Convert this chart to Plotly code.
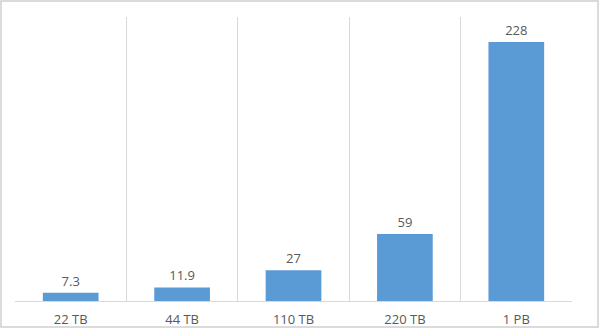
import plotly.graph_objects as go

categories = ["22 TB", "44 TB", "110 TB", "220 TB", "1 PB"]
values = [7.3, 11.9, 27, 59, 228]
labels = ["7.3", "11.9", "27", "59", "228"]

W, H = 600, 329
ml, mr, mt, mb = 15, 28, 17, 28
pw, ph = W - ml - mr, H - mt - mb

fig = go.Figure()
fig.add_trace(go.Bar(
    x=list(range(len(categories))), y=values,
    text=labels, textposition="outside", cliponaxis=False,
    textfont=dict(color="#595959", size=13),
    marker=dict(color="#5b9bd5", line=dict(width=0)),
    width=0.5,
))

fig.update_layout(
    width=W, height=H,
    margin=dict(l=ml, r=mr, t=mt, b=mb, autoexpand=False),
    paper_bgcolor="white", plot_bgcolor="white",
    font=dict(family="Open Sans, Noto Sans, sans-serif", color="#595959", size=13),
    showlegend=False,
    xaxis=dict(
        range=[-0.5, len(categories) - 0.5], automargin=False,
        tickmode="array", tickvals=list(range(len(categories))), ticktext=categories,
        showgrid=False, zeroline=False,
        showline=True, linecolor="#d9d9d9", linewidth=1,
        ticks="outside", ticklen=6, tickcolor="rgba(0,0,0,0)",
        tickfont=dict(color="#595959", size=13),
        minor=dict(tickmode="array", tickvals=[i - 0.5 for i in range(len(categories))],
                   showgrid=True, gridcolor="#d9d9d9", gridwidth=1, ticks=""),
        fixedrange=True,
    ),
    yaxis=dict(range=[0, 250], automargin=False, showgrid=False, zeroline=False,
               showticklabels=False, showline=False, fixedrange=True),
    shapes=[dict(type="rect", xref="paper", yref="paper",
                 x0=(1 - ml) / pw, x1=(W - 2 - ml) / pw,
                 y0=-(mb - 2) / ph, y1=1 + (mt - 1) / ph,
                 line=dict(color="#d0d0d0", width=1.5), fillcolor="rgba(0,0,0,0)", layer="above")],
)

fig.write_html("out.html", config={"displayModeBar": False})
